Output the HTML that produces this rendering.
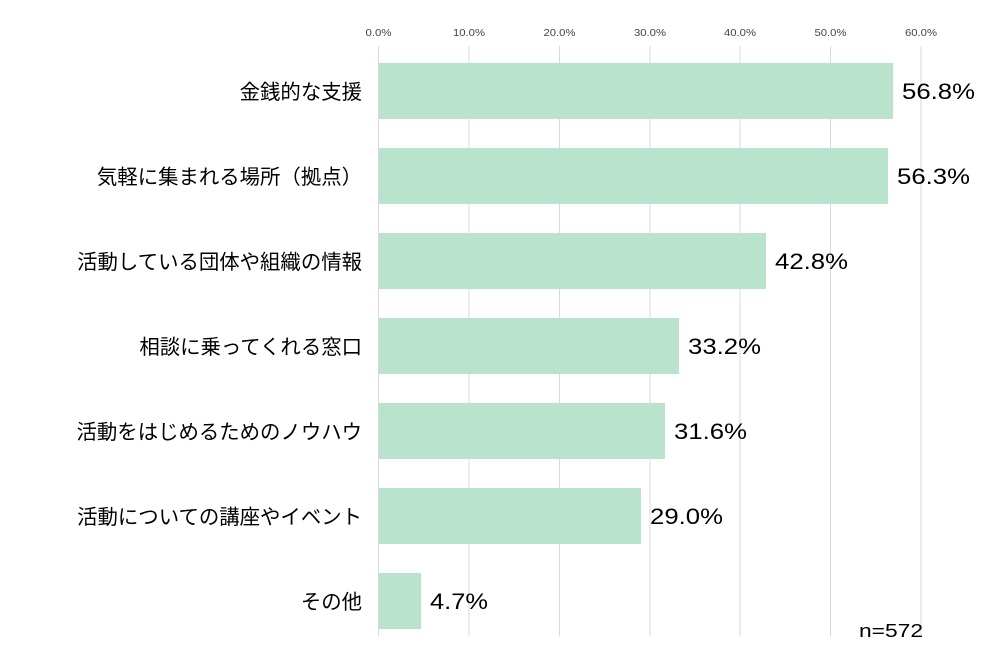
<!DOCTYPE html>
<html><head><meta charset="utf-8"><style>
body{margin:0;background:#fff;}
svg text{font-family:"Liberation Sans","Noto Sans CJK JP",sans-serif;}
</style></head><body>
<svg width="991" height="658" xmlns="http://www.w3.org/2000/svg">
<g stroke="#d9d9d9" stroke-width="1">
<line x1="378.5" y1="46" x2="378.5" y2="636"/>
<line x1="469" y1="46" x2="469" y2="636"/>
<line x1="559.5" y1="46" x2="559.5" y2="636"/>
<line x1="650" y1="46" x2="650" y2="636"/>
<line x1="740" y1="46" x2="740" y2="636"/>
<line x1="830.5" y1="46" x2="830.5" y2="636"/>
<line x1="921" y1="46" x2="921" y2="636"/>
</g>
<g font-size="10.5" fill="#444" text-anchor="middle">
<text x="378.5" y="36" textLength="26" lengthAdjust="spacingAndGlyphs">0.0%</text><text x="469" y="36" textLength="32" lengthAdjust="spacingAndGlyphs">10.0%</text><text x="559.5" y="36" textLength="32" lengthAdjust="spacingAndGlyphs">20.0%</text>
<text x="650" y="36" textLength="32" lengthAdjust="spacingAndGlyphs">30.0%</text><text x="740" y="36" textLength="32" lengthAdjust="spacingAndGlyphs">40.0%</text><text x="830.5" y="36" textLength="32" lengthAdjust="spacingAndGlyphs">50.0%</text><text x="921" y="36" textLength="32" lengthAdjust="spacingAndGlyphs">60.0%</text>
</g>
<g fill="#bae3cd">
<rect x="379" y="63" width="514" height="56"/>
<rect x="379" y="148" width="509" height="56"/>
<rect x="379" y="233" width="387" height="56"/>
<rect x="379" y="318" width="300" height="56"/>
<rect x="379" y="403" width="286" height="56"/>
<rect x="379" y="488" width="262" height="56"/>
<rect x="379" y="573" width="42" height="56"/>
</g>
<g font-size="20.4" fill="#000" text-anchor="end">
<text x="362" y="99">金銭的な支援</text>
<text x="362" y="184">気軽に集まれる場所（拠点）</text>
<text x="362" y="269">活動している団体や組織の情報</text>
<text x="362" y="354">相談に乗ってくれる窓口</text>
<text x="362" y="439">活動をはじめるためのノウハウ</text>
<text x="362" y="524">活動についての講座やイベント</text>
<text x="362" y="609">その他</text>
</g>
<g font-size="22" fill="#000">
<text x="902" y="99" textLength="73" lengthAdjust="spacingAndGlyphs">56.8%</text>
<text x="897" y="184" textLength="73" lengthAdjust="spacingAndGlyphs">56.3%</text>
<text x="775" y="269" textLength="73" lengthAdjust="spacingAndGlyphs">42.8%</text>
<text x="688" y="354" textLength="73" lengthAdjust="spacingAndGlyphs">33.2%</text>
<text x="674" y="439" textLength="73" lengthAdjust="spacingAndGlyphs">31.6%</text>
<text x="650" y="524" textLength="73" lengthAdjust="spacingAndGlyphs">29.0%</text>
<text x="430" y="609" textLength="58" lengthAdjust="spacingAndGlyphs">4.7%</text>
</g>
<text x="859" y="637" font-size="18" fill="#000" textLength="64" lengthAdjust="spacingAndGlyphs">n=572</text>
</svg>
</body></html>
